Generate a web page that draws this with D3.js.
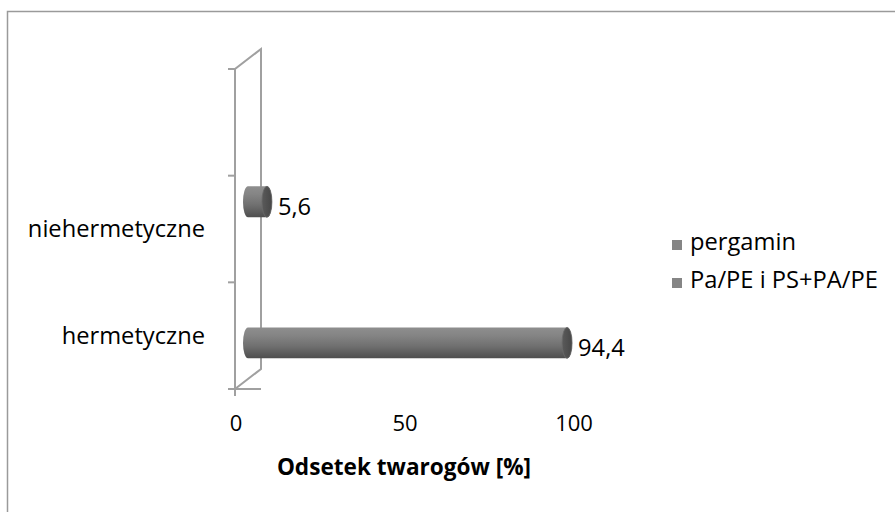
<!DOCTYPE html>
<html>
<head>
<meta charset="utf-8">
<script src="https://cdn.jsdelivr.net/npm/d3@7/dist/d3.min.js"></script>
<style>
  html, body { margin: 0; padding: 0; background: #fff; }
  svg { display: block; font-family: "Open Sans", "Noto Sans", sans-serif; }
</style>
</head>
<body>
<svg id="chart" width="895" height="512"></svg>
<script>
// Category slots from bottom to top (the top slot is left blank)
const categories = ["hermetyczne", "niehermetyczne", ""];
const seriesNames = ["Pa/PE i PS+PA/PE", "pergamin"];
const legendNames = ["pergamin", "Pa/PE i PS+PA/PE"];
const valuesPaPE = [94.4, null, null];
const valuesPergamin = [null, 5.6, null];
const xTicks = [0, 50, 100];
const axisTitle = "Odsetek twarogów [%]";

const svg = d3.select("#chart");
const W = 895, H = 512;
const fontSize = 23.7;

// frame
svg.append("rect")
  .attr("x", 7.5).attr("y", 11.5)
  .attr("width", W + 10).attr("height", H + 10)
  .attr("fill", "#fff").attr("stroke", "#9a9a9a").attr("stroke-width", 1.5);

// front-plane scales
const x = d3.scaleLinear().domain([0, 100]).range([235, 573]);
const y = d3.scaleBand().domain(categories).range([389, 69]).paddingInner(0).paddingOuter(0);
const ySeries = d3.scaleBand().domain(seriesNames).range([y.bandwidth(), 0]).paddingInner(0).paddingOuter(0.55);

// 3D depth of the plot box
const depth = { dx: 26, dy: -20 };
const mid = { dx: depth.dx / 2, dy: depth.dy / 2 };

const wallColor = "#a0a0a0";
const g = svg.append("g");

// side wall
const yTop = y.range()[1], yBot = y.range()[0];
const x0 = x(0);
g.append("path")
  .attr("d", `M${x0},${yBot} L${x0},${yTop} L${x0 + depth.dx},${yTop + depth.dy} L${x0 + depth.dx},${yBot + depth.dy} Z`)
  .attr("fill", "none").attr("stroke", wallColor).attr("stroke-width", 2);

// category ticks on the wall edge
const tickYs = categories.map(c => y(c)).concat([yBot]);
g.selectAll("line.ytick").data(tickYs).join("line")
  .attr("class", "ytick")
  .attr("x1", x0 - 7).attr("x2", x0)
  .attr("y1", d => d).attr("y2", d => d)
  .attr("stroke", wallColor).attr("stroke-width", 2);

// floor front edge and value tick
g.append("line")
  .attr("x1", x0 - 7).attr("x2", x0 + depth.dx)
  .attr("y1", yBot).attr("y2", yBot)
  .attr("stroke", wallColor).attr("stroke-width", 2);
g.append("line")
  .attr("x1", x0).attr("x2", x0)
  .attr("y1", yBot).attr("y2", yBot + 7)
  .attr("stroke", wallColor).attr("stroke-width", 2);

// value axis labels
svg.append("g").selectAll("text").data(xTicks).join("text")
  .attr("x", d => x(d) + 1).attr("y", 431)
  .attr("text-anchor", "middle")
  .attr("font-size", 22).attr("fill", "#000")
  .text(d => d);

// axis title
svg.append("text")
  .attr("x", 404).attr("y", 475)
  .attr("text-anchor", "middle")
  .attr("font-size", 22.6).attr("font-weight", "bold").attr("fill", "#000")
  .text(axisTitle);

// category labels
svg.append("g").selectAll("text").data(categories.filter(c => c)).join("text")
  .attr("x", 205).attr("y", c => y(c) + y.bandwidth() / 2 + 8)
  .attr("text-anchor", "end")
  .attr("font-size", fontSize).attr("fill", "#000")
  .text(c => c);

// gradients for cylinders
const defs = svg.append("defs");
const body = defs.append("linearGradient").attr("id", "cylBody")
  .attr("x1", 0).attr("y1", 0).attr("x2", 0).attr("y2", 1);
body.append("stop").attr("offset", "0%").attr("stop-color", "#8e8e8e");
body.append("stop").attr("offset", "25%").attr("stop-color", "#858585");
body.append("stop").attr("offset", "60%").attr("stop-color", "#707070");
body.append("stop").attr("offset", "100%").attr("stop-color", "#4e4e4e");
const cap = defs.append("linearGradient").attr("id", "cylCap")
  .attr("x1", 0).attr("y1", 0).attr("x2", 1).attr("y2", 0);
cap.append("stop").attr("offset", "0%").attr("stop-color", "#5a5a5a");
cap.append("stop").attr("offset", "100%").attr("stop-color", "#474747");

const bars = [];
categories.forEach((c, i) => {
  [[seriesNames[0], valuesPaPE[i]], [seriesNames[1], valuesPergamin[i]]].forEach(([s, v]) => {
    if (v != null) bars.push({ cat: c, series: s, value: v });
  });
});

const rx = 5;
const barG = svg.append("g");
bars.forEach(b => {
  const h = ySeries.bandwidth() * 0.9;
  const yc = y(b.cat) + ySeries(b.series) + ySeries.bandwidth() / 2 + mid.dy;
  const t = yc - h / 2, bt = yc + h / 2;
  const xs = x(0) + mid.dx, xe = x(b.value) + mid.dx;
  const ry = h / 2;
  barG.append("path")
    .attr("d", `M${xs},${t} L${xe},${t} A${rx},${ry} 0 0 1 ${xe},${bt} L${xs},${bt} A${rx},${ry} 0 0 1 ${xs},${t} Z`)
    .attr("fill", "url(#cylBody)");
  barG.append("ellipse")
    .attr("cx", xe).attr("cy", yc).attr("rx", rx).attr("ry", ry)
    .attr("fill", "url(#cylCap)").attr("stroke", "#6a6a6a").attr("stroke-width", 0.8);
  barG.append("text")
    .attr("x", xe + rx + 6).attr("y", yc + 13)
    .attr("font-size", fontSize).attr("fill", "#000")
    .text(String(b.value).replace(".", ","));
});

// legend
const leg = svg.append("g");
legendNames.forEach((n, i) => {
  const base = 250 + i * 38;
  leg.append("rect").attr("x", 672).attr("y", base - 10).attr("width", 10).attr("height", 10)
    .attr("fill", "#858585");
  leg.append("text").attr("x", 690).attr("y", base)
    .attr("font-size", fontSize).attr("fill", "#000").text(n);
});
</script>
</body>
</html>
